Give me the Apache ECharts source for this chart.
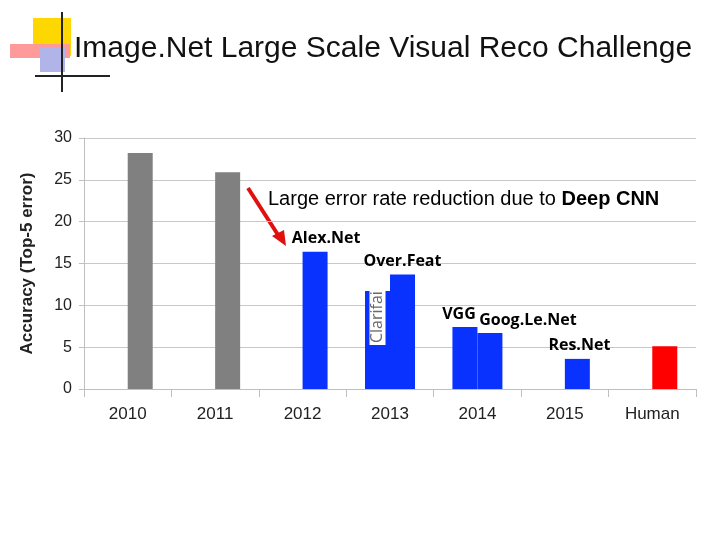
<!DOCTYPE html>
<html><head><meta charset="utf-8">
<script src="https://cdn.jsdelivr.net/npm/echarts@6/dist/echarts.min.js"></script>
<style>html,body{margin:0;padding:0;background:#fff}#c{width:720px;height:540px}</style>
</head><body><div id="c"></div>
<script>
const categories = ['2010','2011','2012','2013','2014','2015','Human'];
// first bar of a pair (only 2013, 2014 have two entries)
const firstValues = [null, null, null, 11.7, 7.4, null, null];
const firstNames  = ['', '', '', 'Clarifai', 'VGG', '', ''];
// main bar per category
const mainValues = [28.2, 25.9, 16.4, 13.7, 6.7, 3.6, 5.1];
const mainNames  = ['', '', 'Alex.Net', 'Over.Feat', 'Goog.Le.Net', 'Res.Net', ''];
const kinds      = ['old', 'old', 'cnn', 'cnn', 'cnn', 'cnn', 'human'];
const yTicks = [0, 5, 10, 15, 20, 25, 30];

const colors = {old: '#808080', cnn: '#0a32ff', human: '#ff0000'};
const boldLabel = {show: true, position: 'top', color: '#000', fontWeight: 'bold', fontSize: 16, fontFamily: 'Open Sans'};
const labelOffsets = {'Alex.Net': [11, 0], 'Over.Feat': [0, 0], 'Goog.Le.Net': [38, 0], 'Res.Net': [2, 0], 'VGG': [-6, 0]};

const firstData = firstValues.map((v, i) => {
  if (v === null) return null;
  const d = {value: v, itemStyle: {color: colors.cnn}};
  if (firstNames[i] === 'Clarifai') {
    d.label = {show: true, position: 'inside', rotate: 90, offset: [23, 0], color: '#6a6a6a', fontSize: 16, fontFamily: 'Open Sans', formatter: firstNames[i], backgroundColor: '#fff', padding: [0, 2]};
  } else if (firstNames[i]) {
    d.label = Object.assign({}, boldLabel, {formatter: firstNames[i], offset: labelOffsets[firstNames[i]]});
  }
  return d;
});
const mainData = mainValues.map((v, i) => {
  const d = {value: v, itemStyle: {color: colors[kinds[i]]}};
  if (mainNames[i]) {
    d.label = Object.assign({}, boldLabel, {formatter: mainNames[i], offset: labelOffsets[mainNames[i]]});
  }
  return d;
});

const chart = echarts.init(document.getElementById('c'));
chart.setOption({
  animation: false,
  grid: {left: 84, right: 24, top: 138, bottom: 151},
  xAxis: {
    type: 'category', data: categories,
    axisLine: {lineStyle: {color: '#bfbfbf'}},
    axisTick: {show: true, length: 8, lineStyle: {color: '#bfbfbf'}},
    axisLabel: {color: '#222', fontSize: 17, fontFamily: 'Liberation Sans', margin: 17}
  },
  yAxis: {
    type: 'value', min: yTicks[0], max: yTicks[yTicks.length - 1], interval: 5,
    name: 'Accuracy (Top-5 error)', nameLocation: 'middle', nameGap: 48,
    nameTextStyle: {fontSize: 17, fontWeight: 'bold', color: '#222', fontFamily: 'Liberation Sans'},
    axisLine: {show: true, lineStyle: {color: '#bfbfbf'}},
    axisTick: {show: true, lineStyle: {color: '#bfbfbf'}},
    axisLabel: {color: '#222', fontSize: 16, fontFamily: 'Liberation Sans', margin: 12},
    splitLine: {lineStyle: {color: '#c8c8c8'}}
  },
  series: [
    {type: 'bar', data: firstData, barWidth: 25, barGap: '0%'},
    {type: 'bar', data: mainData, barWidth: 25, barGap: '0%'}
  ],
  graphic: [
    {type: 'rect', shape: {x: 33, y: 18, width: 38, height: 38}, style: {fill: '#ffd700'}},
    {type: 'rect', shape: {x: 10, y: 44, width: 60, height: 14}, style: {fill: '#ff9a9a'}},
    {type: 'rect', shape: {x: 40, y: 48, width: 25, height: 24}, style: {fill: '#b0b4e8'}},
    {type: 'line', shape: {x1: 62, y1: 12, x2: 62, y2: 92}, style: {stroke: '#222', lineWidth: 2}},
    {type: 'line', shape: {x1: 35, y1: 76, x2: 110, y2: 76}, style: {stroke: '#222', lineWidth: 2}},
    {type: 'text', left: 74, top: 34, style: {text: 'Image.Net Large Scale Visual Reco Challenge', fontSize: 30, fill: '#111', fontFamily: 'Liberation Sans'}},
    {type: 'text', left: 268, top: 189, style: {
      text: '{a|Large error rate reduction due to }{b|Deep CNN}',
      rich: {a: {fontSize: 20, color: '#e01010', fontFamily: 'Liberation Sans'},
             b: {fontSize: 20, fontWeight: 'bold', color: '#e01010', fontFamily: 'Liberation Sans'}}}},
    {type: 'line', shape: {x1: 248, y1: 188, x2: 280, y2: 238}, style: {stroke: '#e01010', lineWidth: 4}},
    {type: 'polygon', shape: {points: [[286, 246], [272, 236], [284, 230]]}, style: {fill: '#e01010'}}
  ]
});
</script></body></html>
